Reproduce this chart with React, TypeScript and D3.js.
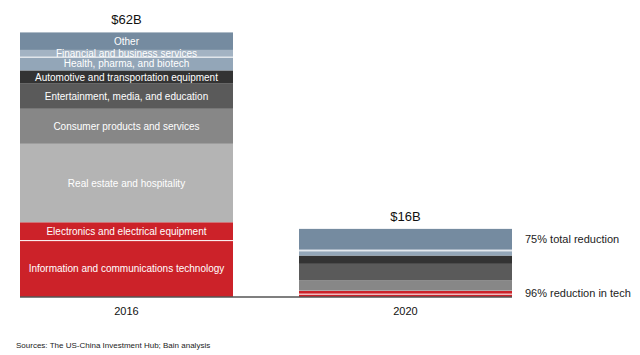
import React from "react";
import * as d3 from "d3";

const categories = ["2016", "2020"];
const totals = ["$62B", "$16B"];
const sectors = [
  "Information and communications technology",
  "Electronics and electrical equipment",
  "Real estate and hospitality",
  "Consumer products and services",
  "Entertainment, media, and education",
  "Automotive and transportation equipment",
  "Health, pharma, and biotech",
  "Financial and business services",
  "Other",
];
const values2016 = [13.1, 4.3, 18.4, 8.2, 5.9, 3.1, 3.1, 1.7, 4.1];
const values2020 = [0.55, 0.75, 0.1, 2.35, 3.9, 1.95, 1.1, 0.35, 4.8];
const sectorColors = [
  "#cc2229",
  "#cc2229",
  "#b4b4b4",
  "#878787",
  "#5a5a5a",
  "#333333",
  "#93a6b8",
  "#a3b3c3",
  "#758ba0",
];
const annotations = ["75% total reduction", "96% reduction in tech"];

const W = 640;
const H = 355;
const FONT = "'Liberation Sans', Arial, Helvetica, sans-serif";

export default function App() {
  const rows = categories.map((c, i) => {
    const vals = i === 0 ? values2016 : values2020;
    const r: any = { cat: c };
    sectors.forEach((s, j) => (r[s] = vals[j]));
    return r;
  });
  const stack = d3.stack<any>().keys(sectors);
  const series = stack(rows);

  const x = d3.scaleBand<string>().domain(categories).range([20, 512]).paddingInner(0.2366).paddingOuter(0);
  const y = d3.scaleLinear().domain([0, 62]).range([296.5, 32]);

  const bw = x.bandwidth();
  const sepAfter = [0, 6]; // white separator on top of these series indices

  return (
    <svg width={W} height={H} style={{ position: "absolute", left: 0, top: 0, background: "#fff" }} fontFamily={FONT}>
      {series.map((s, si) => (
        <g key={s.key} fill={sectorColors[si]}>
          {s.map((d, ci) => (
            <rect
              key={ci}
              x={x(categories[ci])}
              y={y(d[1])}
              width={bw}
              height={Math.max(0, y(d[0]) - y(d[1]))}
            />
          ))}
        </g>
      ))}
      {sepAfter.map((si) =>
        series[si].map((d, ci) => (
          <line
            key={`sep-${si}-${ci}`}
            x1={x(categories[ci])}
            x2={(x(categories[ci]) as number) + bw}
            y1={y(d[1])}
            y2={y(d[1])}
            stroke="#fff"
            strokeWidth={1}
          />
        ))
      )}
      {/* labels in 2016 bar */}
      {series.map((s, si) => {
        const d = s[0];
        const cy = (y(d[0]) + y(d[1])) / 2;
        return (
          <text
            key={`lab-${si}`}
            x={(x(categories[0]) as number) + bw / 2}
            y={cy}
            dy="0.35em"
            textAnchor="middle"
            fill="#fff"
            fontSize={10}
          >
            {sectors[si]}
          </text>
        );
      })}
      {/* axis line */}
      <line x1={20} x2={512} y1={297} y2={297} stroke="#000" strokeWidth={1.2} />
      {/* totals */}
      {categories.map((c, i) => {
        const top = series[series.length - 1][i][1];
        return (
          <text key={`tot-${c}`} x={(x(c) as number) + bw / 2} y={y(top) - 8} textAnchor="middle" fontSize={13} fill="#111">
            {totals[i]}
          </text>
        );
      })}
      {/* category labels */}
      {categories.map((c) => (
        <text key={`cat-${c}`} x={(x(c) as number) + bw / 2} y={315} textAnchor="middle" fontSize={11} fill="#111">
          {c}
        </text>
      ))}
      {/* annotations */}
      <text x={525} y={243} fontSize={11} fill="#222">{annotations[0]}</text>
      <text x={525} y={297} fontSize={11} fill="#222">{annotations[1]}</text>
      <text x={16} y={348} fontSize={8} fill="#222">Sources: The US-China Investment Hub; Bain analysis</text>
    </svg>
  );
}
